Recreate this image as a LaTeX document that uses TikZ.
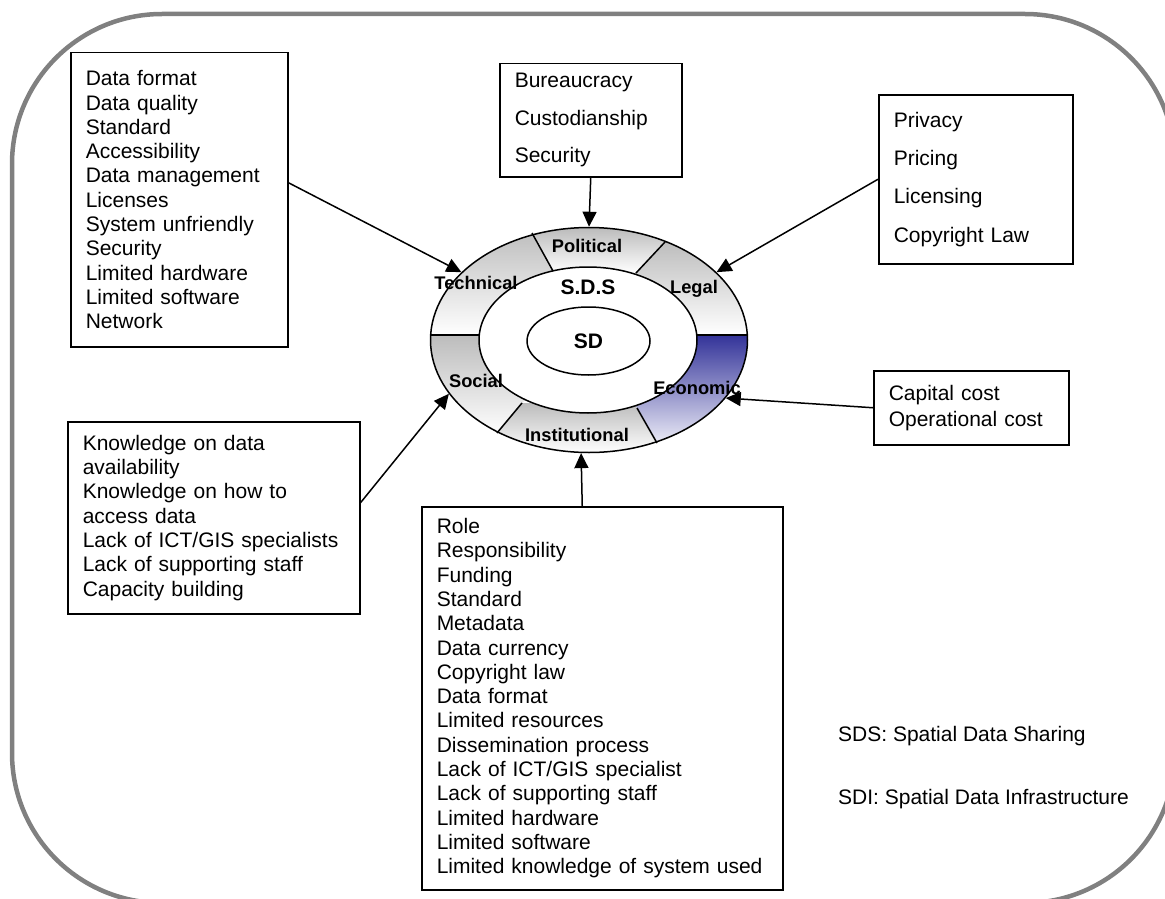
\documentclass[tikz,border=0pt]{standalone}
\usepackage{fontspec}
\setmainfont{Liberation Sans}
\usepackage{xcolor}
\usepackage{tikz}
\usetikzlibrary{shapes.geometric,arrows.meta,calc}
\definecolor{framegray}{RGB}{128,128,128}
\definecolor{seggray}{RGB}{188,188,188}
\definecolor{econblue}{RGB}{51,51,153}
\definecolor{econpale}{RGB}{238,238,248}
\newcommand{\listfont}{\fontsize{21}{24.3}\selectfont}
\tikzset{
  listbox/.style={draw,line width=1.5pt,anchor=north west,align=left,
    inner xsep=15pt,inner ysep=0pt,font=\listfont},
  ringlabel/.style={anchor=base,inner sep=0pt,font=\fontsize{18.3}{20}\selectfont\bfseries},
  corelabel/.style={inner sep=0pt,font=\fontsize{21}{24}\selectfont\bfseries}
}

\begin{document}
\begin{tikzpicture}[x=1pt,y=-1pt,
  arrow/.style={-{Triangle[length=15pt,width=14pt]},line width=1.5pt},
  divider/.style={line width=1.5pt}
]
  \useasboundingbox (0,0) rectangle (1165,899);
  \draw[framegray,line width=4.5pt,rounded corners=150pt] (12,14) rectangle (1175,903);

  % ring segments
  \coordinate (C) at (589,340);
  \coordinate (stO) at (430,335); \coordinate (stI) at (479,335);
  \coordinate (tpO) at (532,233); \coordinate (tpI) at (553,271);
  \coordinate (plO) at (665,242); \coordinate (plI) at (636,273);
  \coordinate (leO) at (747,335); \coordinate (leI) at (697,335);
  \coordinate (eiO) at (657,443); \coordinate (eiI) at (637,408);
  \coordinate (isO) at (497,433); \coordinate (isI) at (522,403);
  \foreach \s in {st,tp,pl,le,ei,is}
    \coordinate (\s E) at ($(\s I)!2.5!(\s O)$);

  \begin{scope}
    \clip (C) ellipse [x radius=158.5pt,y radius=112.5pt];
    \begin{scope}
      \clip (stE) -- (stI) -- (C) -- (tpI) -- (tpE) -- (357,176) -- cycle;
      \shade[top color=seggray,bottom color=white] (350,228) rectangle (830,335);
    \end{scope}
    \begin{scope}
      \clip (tpI) -- (tpE) -- (plE) -- (plI) -- (C) -- cycle;
      \shade[top color=seggray,bottom color=white] (350,228) rectangle (830,273);
    \end{scope}
    \begin{scope}
      \clip (plI) -- (plE) -- (822,196) -- (leE) -- (leI) -- (C) -- cycle;
      \shade[top color=seggray,bottom color=white] (350,240) rectangle (830,335);
    \end{scope}
    \begin{scope}
      \clip (leI) -- (leE) -- (822,495) -- (eiE) -- (eiI) -- (C) -- cycle;
      \shade[top color=econblue,bottom color=econpale] (350,335) rectangle (830,445);
    \end{scope}
    \begin{scope}
      \clip (eiI) -- (eiE) -- (isE) -- (isI) -- (C) -- cycle;
      \shade[top color=seggray,bottom color=white] (350,403) rectangle (830,453);
    \end{scope}
    \begin{scope}
      \clip (isI) -- (isE) -- (357,478) -- (stE) -- (stI) -- (C) -- cycle;
      \shade[top color=seggray,bottom color=white] (350,335) rectangle (830,435);
    \end{scope}
  \end{scope}

  \node[ellipse,draw,line width=1.5pt,minimum width=317pt,minimum height=225pt,inner sep=0pt] (ring) at (C) {};
  \node[ellipse,draw,fill=white,line width=1.5pt,minimum width=218pt,minimum height=146pt,inner sep=0pt] (sds) at (588,340) {};
  \node[ellipse,draw,line width=1.5pt,minimum width=123pt,minimum height=68pt,corelabel] (sd) at (588.5,341) {SD};
  \foreach \s in {st,tp,pl,le,ei,is}
    \draw[divider] (\s O) -- (\s I);

  \node[ringlabel] (lpol)   at (587,252.5) {Political};
  \node[ringlabel] (ltech)  at (476,289.5) {Technical};
  \node[ringlabel] (llegal) at (694,293.5) {Legal};
  \node[ringlabel] (lsoc)   at (476,387) {Social};
  \node[ringlabel] (lecon)  at (697,394) {Economic};
  \node[ringlabel] (linst)  at (577,441) {Institutional};
  \node[corelabel,anchor=base] (lsds) at (588,294.5) {S.D.S};

  % factor lists
  \node[listbox,text width=187pt,minimum height=294pt] (tech) at (70,52)
    {Data format\\Data quality\\Standard\\Accessibility\\Data management\\Licenses\\System unfriendly\\Security\\Limited hardware\\Limited software\\Network};
  \node[listbox,text width=152pt,minimum height=113pt,font=\fontsize{21}{37.5}\selectfont] (pol) at (499,63)
    {Bureaucracy\\Custodianship\\Security};
  \node[listbox,text width=164pt,minimum height=169pt,font=\fontsize{21}{38.3}\selectfont] (legal) at (878,94)
    {Privacy\\Pricing\\Licensing\\Copyright Law};
  \node[listbox,text width=165pt,minimum height=74pt,font=\fontsize{21}{26}\selectfont] (econ) at (873,370)
    {Capital cost\\Operational cost};
  \node[listbox,text width=262pt,minimum height=192pt] (social) at (67,421)
    {Knowledge on data\\availability\\Knowledge on how to\\access data\\Lack of ICT/GIS specialists\\Lack of supporting staff\\Capacity building};
  \node[listbox,text width=331pt,minimum height=383pt] (inst) at (421,506)
    {Role\\Responsibility\\Funding\\Standard\\Metadata\\Data currency\\Copyright law\\Data format\\Limited resources\\Dissemination process\\Lack of ICT/GIS specialist\\Lack of supporting staff\\Limited hardware\\Limited software\\Limited knowledge of system used};

  \draw[arrow] ([yshift=17pt]tech.east) -- (ring.152);
  \draw[arrow] (pol.south) -- (ring.north);
  \draw[arrow] (legal.west) -- (ring.28);
  \draw[arrow] (econ.west) -- (ring.-23);
  \draw[arrow] ([yshift=15pt]social.east) -- (ring.201);
  \draw[arrow] ([xshift=-20pt]inst.north) -- (ring.266);

  \node[anchor=base west,inner sep=0pt,font=\listfont] (sdsnote) at (838,741) {SDS: Spatial Data Sharing};
  \node[anchor=base west,inner sep=0pt,font=\listfont] (sdinote) at (838,804) {SDI: Spatial Data Infrastructure};
\end{tikzpicture}
\end{document}
